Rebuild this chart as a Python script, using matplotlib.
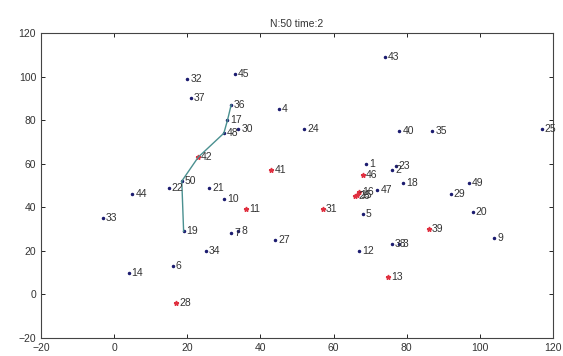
import matplotlib
matplotlib.use('Agg')
import matplotlib.pyplot as plt

# node positions (id, x, y)
node_ids = list(range(1, 51))
node_x = [69, 76, 78, 45, 68, 16, 32, 34, 104, 30,
          36, 67, 75, 4, 66.5, 67, 31, 79, 19, 98,
          26, 15, 77, 52, 117, 66, 44, 17, 92, 34,
          57, 20, -3, 25, 87, 32, 21, 76, 86, 78,
          43, 23, 74, 5, 33, 68, 72, 30, 97, 18.5]
node_y = [60, 57, 23, 85, 37, 13, 28, 29, 26, 44,
          39, 20, 8, 10, 45.5, 47, 80, 51, 29, 38,
          49, 49, 59, 76, 76, 45, 25, -4, 46, 76,
          39, 99, 35, 20, 75, 87, 90, 23, 30, 75,
          57, 63, 109, 46, 101, 55, 48, 74, 51, 52]

# nodes drawn as red stars
red_nodes = [11, 13, 15, 16, 26, 28, 31, 39, 41, 42, 46]
# route drawn as a line
route = [19, 50, 42, 48, 17, 36]

fig = plt.figure(figsize=(5.63, 3.56), dpi=100)
ax = fig.add_axes([0.0728, 0.0506, 0.9094, 0.8567])

for i, x, y in zip(node_ids, node_x, node_y):
    if i in red_nodes:
        ax.plot(x, y, marker='*', color='#e03040', markersize=3.5, linestyle='none')
    else:
        ax.plot(x, y, marker='.', color='#1c1c70', markersize=3, linestyle='none')
    ax.text(x + 0.8, y, str(i), fontsize=7.5, color='#333333',
            ha='left', va='center', family='Liberation Sans')

rx = [node_x[n - 1] for n in route]
ry = [node_y[n - 1] for n in route]
ax.plot(rx, ry, color='#4a9090', linewidth=1)

ax.set_xlim(-20, 120)
ax.set_ylim(-20, 120)
ax.set_xticks(range(-20, 121, 20))
ax.set_yticks(range(-20, 121, 20))
ax.tick_params(direction='in', top=True, right=True, labelsize=7.5,
               labelcolor='#333333', length=3, width=0.6)
for lab in ax.get_xticklabels() + ax.get_yticklabels():
    lab.set_family('Liberation Sans')
for s in ax.spines.values():
    s.set_linewidth(0.8)
    s.set_color('#444444')
ax.set_title('N:50 time:2', fontsize=7.5, color='#333333', pad=4,
             family='Liberation Sans')

plt.savefig('out.png', dpi=100)
plt.close()
